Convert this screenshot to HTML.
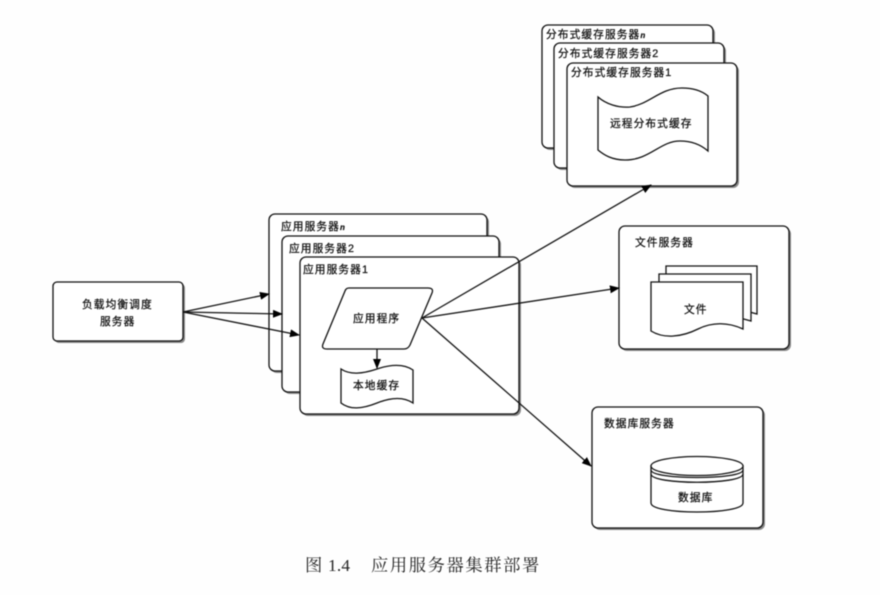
<!DOCTYPE html>
<html><head><meta charset="utf-8">
<style>
html,body{margin:0;padding:0;background:#fefefe;width:880px;height:595px;overflow:hidden}
svg{display:block;filter:blur(0.55px)}
text{font-family:"Liberation Sans","Noto Sans CJK SC",sans-serif;fill:#111;stroke:#111;stroke-width:0.25px;font-size:10.7px;letter-spacing:1.1px}
.b{fill:#fff;stroke:#111;stroke-width:1.3}
.s{fill:#888;stroke:none}
.l{stroke:#111;stroke-width:1.3;fill:none}
text.c{font-family:"Liberation Serif","Noto Serif CJK SC",serif;font-size:17.3px;letter-spacing:1.6px;fill:#222;stroke:none}
</style></head><body>
<svg width="880" height="595" viewBox="0 0 880 595" xmlns="http://www.w3.org/2000/svg">
<defs>
<marker id="a" markerWidth="10" markerHeight="8" refX="9" refY="4" orient="auto" markerUnits="userSpaceOnUse"><path d="M0 0L10 4L0 8Z" fill="#000"/></marker>
</defs>

<!-- Load balancer -->
<rect class="s" x="55" y="284" width="130" height="59" rx="4"/>
<rect class="b" x="53" y="282" width="130" height="59" rx="4"/>
<text x="82" y="308">负载均衡调度</text>
<text x="100" y="325">服务器</text>

<!-- App servers -->
<rect class="s" x="271" y="216" width="218" height="157" rx="6"/>
<rect class="b" x="269" y="214" width="218" height="157" rx="6"/>
<text x="281" y="230">应用服务器<tspan font-style="italic" font-weight="bold" font-size="8">n</tspan></text>
<rect class="s" x="284" y="238" width="217" height="156" rx="6"/>
<rect class="b" x="282" y="236" width="217" height="156" rx="6"/>
<text x="289" y="252">应用服务器2</text>
<rect class="s" x="302" y="259" width="219" height="157" rx="6"/>
<rect class="b" x="300" y="257" width="219" height="157" rx="6"/>
<text x="303" y="273">应用服务器1</text>

<!-- Parallelogram -->
<path class="b" d="M349 288H428Q434 288 432 293L410 345Q408 349 404 349H327Q321 349 323 344L345 291Q346 288 349 288Z"/>
<text x="353" y="322">应用程序</text>

<!-- Local cache -->
<path class="b" d="M341 369C350 375 362 374 377 369C392 364 404 364 413 370V403C404 397 392 397 377 403C362 409 350 410 341 403Z"/>
<text x="353" y="389">本地缓存</text>
<line class="l" x1="377" y1="349" x2="377" y2="368" marker-end="url(#a)"/>

<!-- Distributed cache servers -->
<rect class="s" x="544" y="27" width="171" height="123" rx="6"/>
<rect class="b" x="542" y="25" width="171" height="123" rx="6"/>
<text x="546" y="38">分布式缓存服务器<tspan font-style="italic" font-weight="bold" font-size="8">n</tspan></text>
<rect class="s" x="556" y="45" width="170" height="125" rx="6"/>
<rect class="b" x="554" y="43" width="170" height="125" rx="6"/>
<text x="558" y="57">分布式缓存服务器2</text>
<rect class="s" x="569" y="65" width="170" height="123" rx="6"/>
<rect class="b" x="567" y="63" width="170" height="123" rx="6"/>
<text x="571" y="76">分布式缓存服务器1</text>
<path class="b" d="M598 97C606 104 618 108 630 107C650 104 660 88 682 88C693 88 702 91 708 96V151C700 144 690 141 680 141C660 141 650 160 625 160C612 160 604 155 598 150Z"/>
<text x="610" y="127">远程分布式缓存</text>

<!-- File server -->
<rect class="s" x="621" y="228" width="170" height="123" rx="6"/>
<rect class="b" x="619" y="226" width="170" height="123" rx="6"/>
<text x="635" y="246">文件服务器</text>
<path class="b" d="M666 266H757V314L746 311V290H666Z"/>
<path class="b" d="M659 274H751V321L740 318V298H659Z"/>
<path class="b" d="M651 282H743V329C728 322 712 322 698 329C682 337 664 339 651 331Z"/>
<text x="684" y="313">文件</text>

<!-- DB server -->
<rect class="s" x="594" y="409" width="171" height="121" rx="6"/>
<rect class="b" x="592" y="407" width="171" height="121" rx="6"/>
<text x="604" y="427">数据库服务器</text>
<path class="b" d="M651 466V503C651 515 743 515 743 503V466Z"/>
<ellipse class="b" cx="697" cy="466" rx="46" ry="9.5"/>
<path class="l" d="M651 470C651 480 743 480 743 470"/>
<path class="l" d="M651 474C651 485 743 485 743 474"/>
<text x="678" y="501">数据库</text>

<!-- Arrows -->
<g class="l">
<line x1="183" y1="312" x2="269" y2="294" marker-end="url(#a)"/>
<line x1="183" y1="312" x2="282" y2="314" marker-end="url(#a)"/>
<line x1="183" y1="312" x2="299" y2="335" marker-end="url(#a)"/>
<line x1="422" y1="318" x2="651" y2="185" marker-end="url(#a)"/>
<line x1="422" y1="318" x2="619" y2="288" marker-end="url(#a)"/>
<line x1="422" y1="318" x2="591" y2="466" marker-end="url(#a)"/>
</g>

<!-- Caption -->
<text class="c" x="305" y="571">图</text>
<text class="c" x="328" y="571" style="letter-spacing:0.2px">1.4</text>
<text class="c" x="371" y="571">应用服务器集群部署</text>
</svg>
</body></html>
